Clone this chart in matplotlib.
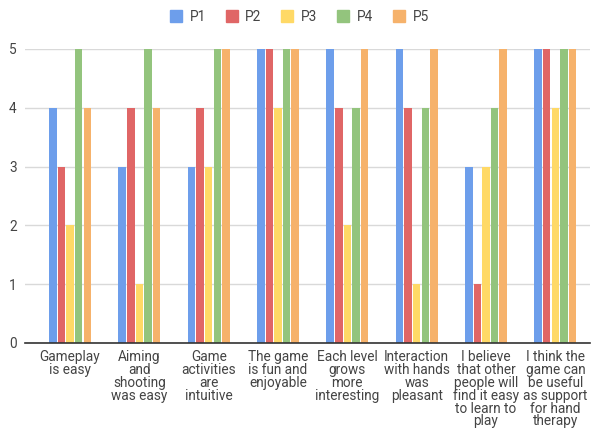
import matplotlib
matplotlib.use("Agg")
import matplotlib.pyplot as plt
import numpy as np
from matplotlib.lines import Line2D

categories = [
    "Gameplay\nis easy",
    "Aiming\nand\nshooting\nwas easy",
    "Game\nactivities\nare\nintuitive",
    "The game\nis fun and\nenjoyable",
    "Each level\ngrows\nmore\ninteresting",
    "Interaction\nwith hands\nwas\npleasant",
    "I believe\nthat other\npeople will\nfind it easy\nto learn to\nplay",
    "I think the\ngame can\nbe useful\nas support\nfor hand\ntherapy",
]
series_names = ["P1", "P2", "P3", "P4", "P5"]
P1 = [4, 3, 3, 5, 5, 5, 3, 5]
P2 = [3, 4, 4, 5, 4, 4, 1, 5]
P3 = [2, 1, 3, 4, 2, 1, 3, 4]
P4 = [5, 5, 5, 5, 4, 4, 4, 5]
P5 = [4, 4, 5, 5, 5, 5, 5, 5]
yticks = [0, 1, 2, 3, 4, 5]

colors = ["#6d9eeb", "#e06666", "#ffd966", "#93c47d", "#f6b26b"]
series = [P1, P2, P3, P4, P5]

plt.rcParams['font.family'] = ['Roboto', 'DejaVu Sans']
fig = plt.figure(figsize=(5.98, 4.32), dpi=100)
ax = fig.add_axes([25/598, 89/432, (590-25)/598, 294/432])

x = np.arange(len(categories))
pitch = 0.124
width = 0.108
for i, (name, vals, c) in enumerate(zip(series_names, series, colors)):
    ax.bar(x + (i - 2) * pitch, vals, width=width, color=c, label=name, zorder=3)

ax.set_xlim(-0.65, 7.5)
ax.set_ylim(0, 5)
ax.set_yticks(yticks)
ax.yaxis.grid(True, color="#d9d9d9", linewidth=1, zorder=0)
ax.set_axisbelow(True)
for s in ["top", "right", "left"]:
    ax.spines[s].set_visible(False)
ax.spines["bottom"].set_color("#333333")
ax.spines["bottom"].set_linewidth(1.2)
ax.spines["bottom"].set_zorder(4)
ax.tick_params(axis="both", length=0, labelcolor="#444444", labelsize=9.8)
ax.tick_params(axis="y", pad=6)
ax.set_xticks(x)
ax.set_xticklabels(categories, linespacing=0.9)
ax.tick_params(axis="x", pad=5)

handles = [Line2D([0], [0], marker="s", linestyle="none", markersize=8,
                  markerfacecolor=c, markeredgecolor=c) for c in colors]
fig.legend(handles, series_names, loc="center", bbox_to_anchor=(0.5, 1 - 17/432),
           ncol=5, frameon=False, fontsize=9.8, handletextpad=0.5,
           columnspacing=1.4, labelcolor="#444444", handlelength=1.0)

fig.savefig("out.png", dpi=100)
